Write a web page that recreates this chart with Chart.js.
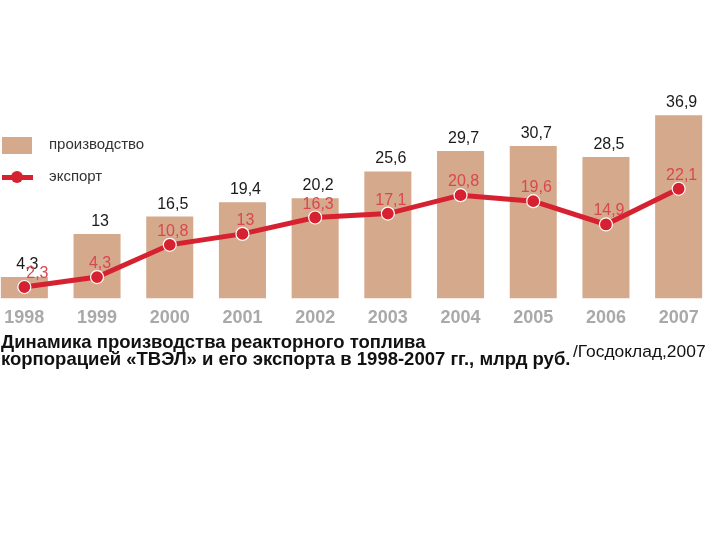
<!DOCTYPE html>
<html>
<head>
<meta charset="utf-8">
<script src="https://cdn.jsdelivr.net/npm/chart.js@4/dist/chart.umd.min.js"></script>
<style>
  html, body { margin:0; padding:0; background:#fff; width:720px; height:540px; overflow:hidden; position:relative; font-family:"Liberation Sans", Arial, sans-serif; }
  #wrap { position:absolute; left:-12px; top:9px; width:727px; height:329px; }
  .leg { position:absolute; font-size:15px; color:#333; }
  #title { position:absolute; left:1px; top:333px; font-family:"Liberation Sans",Arial,sans-serif; font-weight:bold; font-size:18.5px; line-height:17px; color:#111; white-space:nowrap; }
  #src { position:absolute; left:573px; top:341px; font-size:17.4px; color:#111; white-space:nowrap; }
</style>
</head>
<body>
<div id="wrap"><canvas id="c" width="727" height="329"></canvas></div>
<div class="leg" style="left:2px;top:137px;width:30px;height:17px;background:#d5a98c;"></div>
<div class="leg" style="left:49px;top:135px;">производство</div>
<div class="leg" style="left:2px;top:175px;width:31px;height:5px;background:#d62130;"></div>
<div class="leg" style="left:11px;top:171px;width:12px;height:12px;border-radius:50%;background:#d62130;"></div>
<div class="leg" style="left:49px;top:167px;">экспорт</div>
<div id="title">Динамика производства реакторного топлива<br>корпорацией «ТВЭЛ» и его экспорта в 1998-2007 гг., млрд руб.</div>
<div id="src">/Госдоклад,2007</div>
<script>
const years = ['1998','1999','2000','2001','2002','2003','2004','2005','2006','2007'];
const production = [4.3, 13, 16.5, 19.4, 20.2, 25.6, 29.7, 30.7, 28.5, 36.9];
const exportVals = [2.3, 4.3, 10.8, 13, 16.3, 17.1, 20.8, 19.6, 14.9, 22.1];

const fmt = v => String(v).replace('.', ',');

const labelPlugin = {
  id: 'valueLabels',
  afterDatasetsDraw(chart) {
    const ctx = chart.ctx;
    ctx.save();
    ctx.textAlign = 'center';
    ctx.textBaseline = 'alphabetic';
    const bars = chart.getDatasetMeta(1).data;
    ctx.font = '16px "Liberation Sans", Arial, sans-serif';
    ctx.fillStyle = '#1a1a1a';
    bars.forEach((b, i) => {
      ctx.fillText(fmt(production[i]), b.x + 3, b.y - 8);
    });
    const pts = chart.getDatasetMeta(0).data;
    ctx.fillStyle = '#d9474f';
    pts.forEach((p, i) => {
      const dx = i === 0 ? 13 : 3;
      ctx.fillText(fmt(exportVals[i]), p.x + dx, p.y - 9);
    });
    ctx.restore();
  }
};

new Chart(document.getElementById('c'), {
  data: {
    labels: years,
    datasets: [
      {
        type: 'line',
        label: 'экспорт',
        data: exportVals,
        borderColor: '#d62130',
        backgroundColor: '#d62130',
        borderWidth: 5,
        pointRadius: 6.5,
        pointBorderColor: '#ffffff',
        pointBorderWidth: 1.2,
        pointBackgroundColor: '#d62130',
        tension: 0,
        clip: false,
        order: 0
      },
      {
        type: 'bar',
        label: 'производство',
        data: production,
        backgroundColor: '#d5a98c',
        borderWidth: 0,
        categoryPercentage: 1,
        barPercentage: 0.647,
        order: 1
      }
    ]
  },
  options: {
    responsive: false,
    animation: false,
    layout: { autoPadding: false, padding: { top: 81, bottom: 0, left: 0, right: 0 } },
    plugins: { legend: { display: false }, tooltip: { enabled: false }, title: { display: false } },
    scales: {
      x: {
        offset: true,
        grid: { display: false, drawTicks: false },
        border: { display: false },
        ticks: {
          color: '#a9a9a9',
          padding: 9,
          font: { family: '"Liberation Sans", Arial, sans-serif', weight: 'bold', size: 18 }
        }
      },
      y: {
        display: false,
        min: 0,
        max: 42
      }
    }
  },
  plugins: [labelPlugin]
});
</script>
</body>
</html>
